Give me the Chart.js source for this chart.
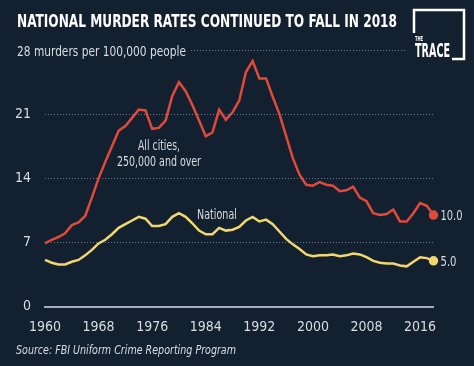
<!DOCTYPE html>
<html>
<head>
<meta charset="utf-8">
<script src="https://cdn.jsdelivr.net/npm/chart.js@4/dist/chart.umd.min.js"></script>
<style>
html,body{margin:0;padding:0;background:#132030;}
#wrap{width:474px;height:366px;position:relative;}
</style>
</head>
<body>
<div id="wrap"><canvas id="c" width="474" height="366"></canvas></div>
<script>
const years = [1960,1961,1962,1963,1964,1965,1966,1967,1968,1969,1970,1971,1972,1973,1974,1975,1976,1977,1978,1979,1980,1981,1982,1983,1984,1985,1986,1987,1988,1989,1990,1991,1992,1993,1994,1995,1996,1997,1998,1999,2000,2001,2002,2003,2004,2005,2006,2007,2008,2009,2010,2011,2012,2013,2014,2015,2016,2017,2018];
const bigCities = [6.9,7.3,7.6,8.0,8.9,9.2,9.9,11.9,14.0,15.8,17.5,19.2,19.7,20.6,21.5,21.4,19.4,19.5,20.3,23.0,24.5,23.5,22.0,20.3,18.6,19.0,21.5,20.4,21.2,22.5,25.6,26.8,24.9,24.9,22.9,21.0,18.6,16.2,14.4,13.3,13.2,13.6,13.3,13.2,12.6,12.7,13.1,11.9,11.5,10.2,10.0,10.1,10.6,9.3,9.3,10.2,11.3,11.0,10.0];
const national = [5.1,4.8,4.6,4.6,4.9,5.1,5.6,6.2,6.9,7.3,7.9,8.6,9.0,9.4,9.8,9.6,8.8,8.8,9.0,9.8,10.2,9.8,9.1,8.3,7.9,7.9,8.6,8.3,8.4,8.7,9.4,9.8,9.3,9.5,9.0,8.2,7.4,6.8,6.3,5.7,5.5,5.6,5.6,5.7,5.5,5.6,5.8,5.7,5.4,5.0,4.8,4.7,4.7,4.5,4.4,4.9,5.4,5.3,5.0];
const xTicks = [1960,1968,1976,1984,1992,2000,2008,2016];
const yTicks = [0,7,14,21,28];
const titleText = "NATIONAL MURDER RATES CONTINUED TO FALL IN 2018";
const subtitleText = "28 murders per 100,000 people";
const sourceText = "Source: FBI Uniform Crime Reporting Program";
const citiesLabel = ["All cities,", "250,000 and over"];
const nationalLabel = "National";

const FONT = "'Liberation Sans Narrow','Arial Narrow','DejaVu Sans Condensed',sans-serif";
const BG = '#132030';
const TXT = '#d8dde3';
const RED = '#e04a3a';
const YEL = '#f1d76c';

function fitText(ctx, text, x, y, w, font, color, align) {
  ctx.save();
  ctx.font = font;
  ctx.fillStyle = color;
  ctx.textBaseline = 'alphabetic';
  ctx.textAlign = 'left';
  const m = ctx.measureText(text).width;
  const s = w / m;
  let left = x;
  if (align === 'center') left = x - w / 2;
  else if (align === 'right') left = x - w;
  ctx.translate(left, y);
  ctx.scale(s, 1);
  ctx.fillText(text, 0, 0);
  ctx.restore();
}

const decor = {
  id: 'decor',
  beforeDraw(chart) {
    const ctx = chart.ctx;
    ctx.save();
    ctx.fillStyle = BG;
    ctx.fillRect(0, 0, chart.width, chart.height);
    ctx.restore();
  },
  afterDraw(chart) {
    const ctx = chart.ctx;
    const xs = chart.scales.x, ys = chart.scales.y;
    // title
    fitText(ctx, titleText, 17, 27, 380, "bold 18px " + FONT, '#ffffff', 'left');
    // subtitle
    fitText(ctx, subtitleText, 17, 56, 169, "14px " + FONT, TXT, 'left');
    // partial top gridline (28)
    const y28 = Math.round(ys.getPixelForValue(28)) + 0.5;
    ctx.save();
    ctx.strokeStyle = '#6c7a8b';
    ctx.lineWidth = 1;
    ctx.setLineDash([1, 2]);
    ctx.beginPath();
    ctx.moveTo(191, y28);
    ctx.lineTo(405, y28);
    ctx.stroke();
    ctx.restore();
    // logo
    ctx.save();
    ctx.strokeStyle = '#ffffff';
    ctx.lineWidth = 2.5;
    ctx.beginPath();
    ctx.moveTo(414, 33);
    ctx.lineTo(414, 10);
    ctx.lineTo(464, 10);
    ctx.lineTo(464, 59);
    ctx.lineTo(452, 59);
    ctx.stroke();
    ctx.restore();
    fitText(ctx, "THE", 415, 41, 8, "bold 7px " + FONT, '#ffffff', 'left');
    fitText(ctx, "TRACE", 415, 57, 35, "bold 20px " + FONT, '#ffffff', 'left');
    // series labels
    fitText(ctx, citiesLabel[0], 159, 150, 42, "14px " + FONT, TXT, 'center');
    fitText(ctx, citiesLabel[1], 159, 166, 84, "14px " + FONT, TXT, 'center');
    fitText(ctx, nationalLabel, 197, 219, 40, "14px " + FONT, TXT, 'left');
    // end values
    const lastC = bigCities[bigCities.length - 1];
    const lastN = national[national.length - 1];
    const xr = chart.chartArea.right + 7;
    fitText(ctx, lastC.toFixed(1), xr, ys.getPixelForValue(lastC) + 5, 22, "14px " + FONT, TXT, 'left');
    fitText(ctx, lastN.toFixed(1), xr, ys.getPixelForValue(lastN) + 5, 16, "14px " + FONT, TXT, 'left');
    // source
    fitText(ctx, sourceText, 16, 354, 220, "italic 13px " + FONT, TXT, 'left');
  }
};

const lastIdx = years.length - 1;
const mk = (arr) => years.map((y, i) => ({x: y, y: arr[i]}));

new Chart(document.getElementById('c'), {
  type: 'line',
  data: {
    datasets: [
      {
        label: 'All cities, 250,000 and over',
        data: mk(bigCities),
        borderColor: RED,
        backgroundColor: RED,
        borderWidth: 2.5,
        pointRadius: ctx => ctx.dataIndex === lastIdx ? 3.5 : 0,
        pointHoverRadius: 0,
        tension: 0,
        clip: false
      },
      {
        label: 'National',
        data: mk(national),
        borderColor: YEL,
        backgroundColor: YEL,
        borderWidth: 2.5,
        pointRadius: ctx => ctx.dataIndex === lastIdx ? 3.5 : 0,
        pointHoverRadius: 0,
        tension: 0,
        clip: false
      }
    ]
  },
  options: {
    responsive: false,
    animation: false,
    events: [],
    layout: { padding: { top: 50, right: 40.5, left: 0, bottom: 0 } },
    plugins: { legend: { display: false }, tooltip: { enabled: false }, title: { display: false } },
    scales: {
      x: {
        type: 'linear',
        min: 1960,
        max: 2018,
        afterBuildTicks: axis => { axis.ticks = xTicks.map(v => ({ value: v })); },
        afterFit: s => { s.height = 59.3; },
        grid: { display: false, drawTicks: false },
        border: { display: true, color: '#a3adba', width: 2 },
        ticks: {
          color: TXT,
          font: { family: FONT, size: 14 },
          padding: 12,
          maxRotation: 0,
          autoSkip: false,
          callback: v => String(v)
        }
      },
      y: {
        min: 0,
        max: 28,
        afterBuildTicks: axis => { axis.ticks = yTicks.map(v => ({ value: v })); },
        afterFit: s => { s.width = 45; },
        grid: {
          drawTicks: false,
          color: ctx => (ctx.tick && (ctx.tick.value === 0 || ctx.tick.value === 28)) ? 'rgba(0,0,0,0)' : '#6c7a8b',
          lineWidth: 1
        },
        border: { display: false, dash: [1, 2] },
        ticks: {
          color: TXT,
          font: { family: FONT, size: 14 },
          padding: 14,
          callback: v => v === 28 ? '' : String(v)
        }
      }
    }
  },
  plugins: [decor]
});
</script>
</body>
</html>
